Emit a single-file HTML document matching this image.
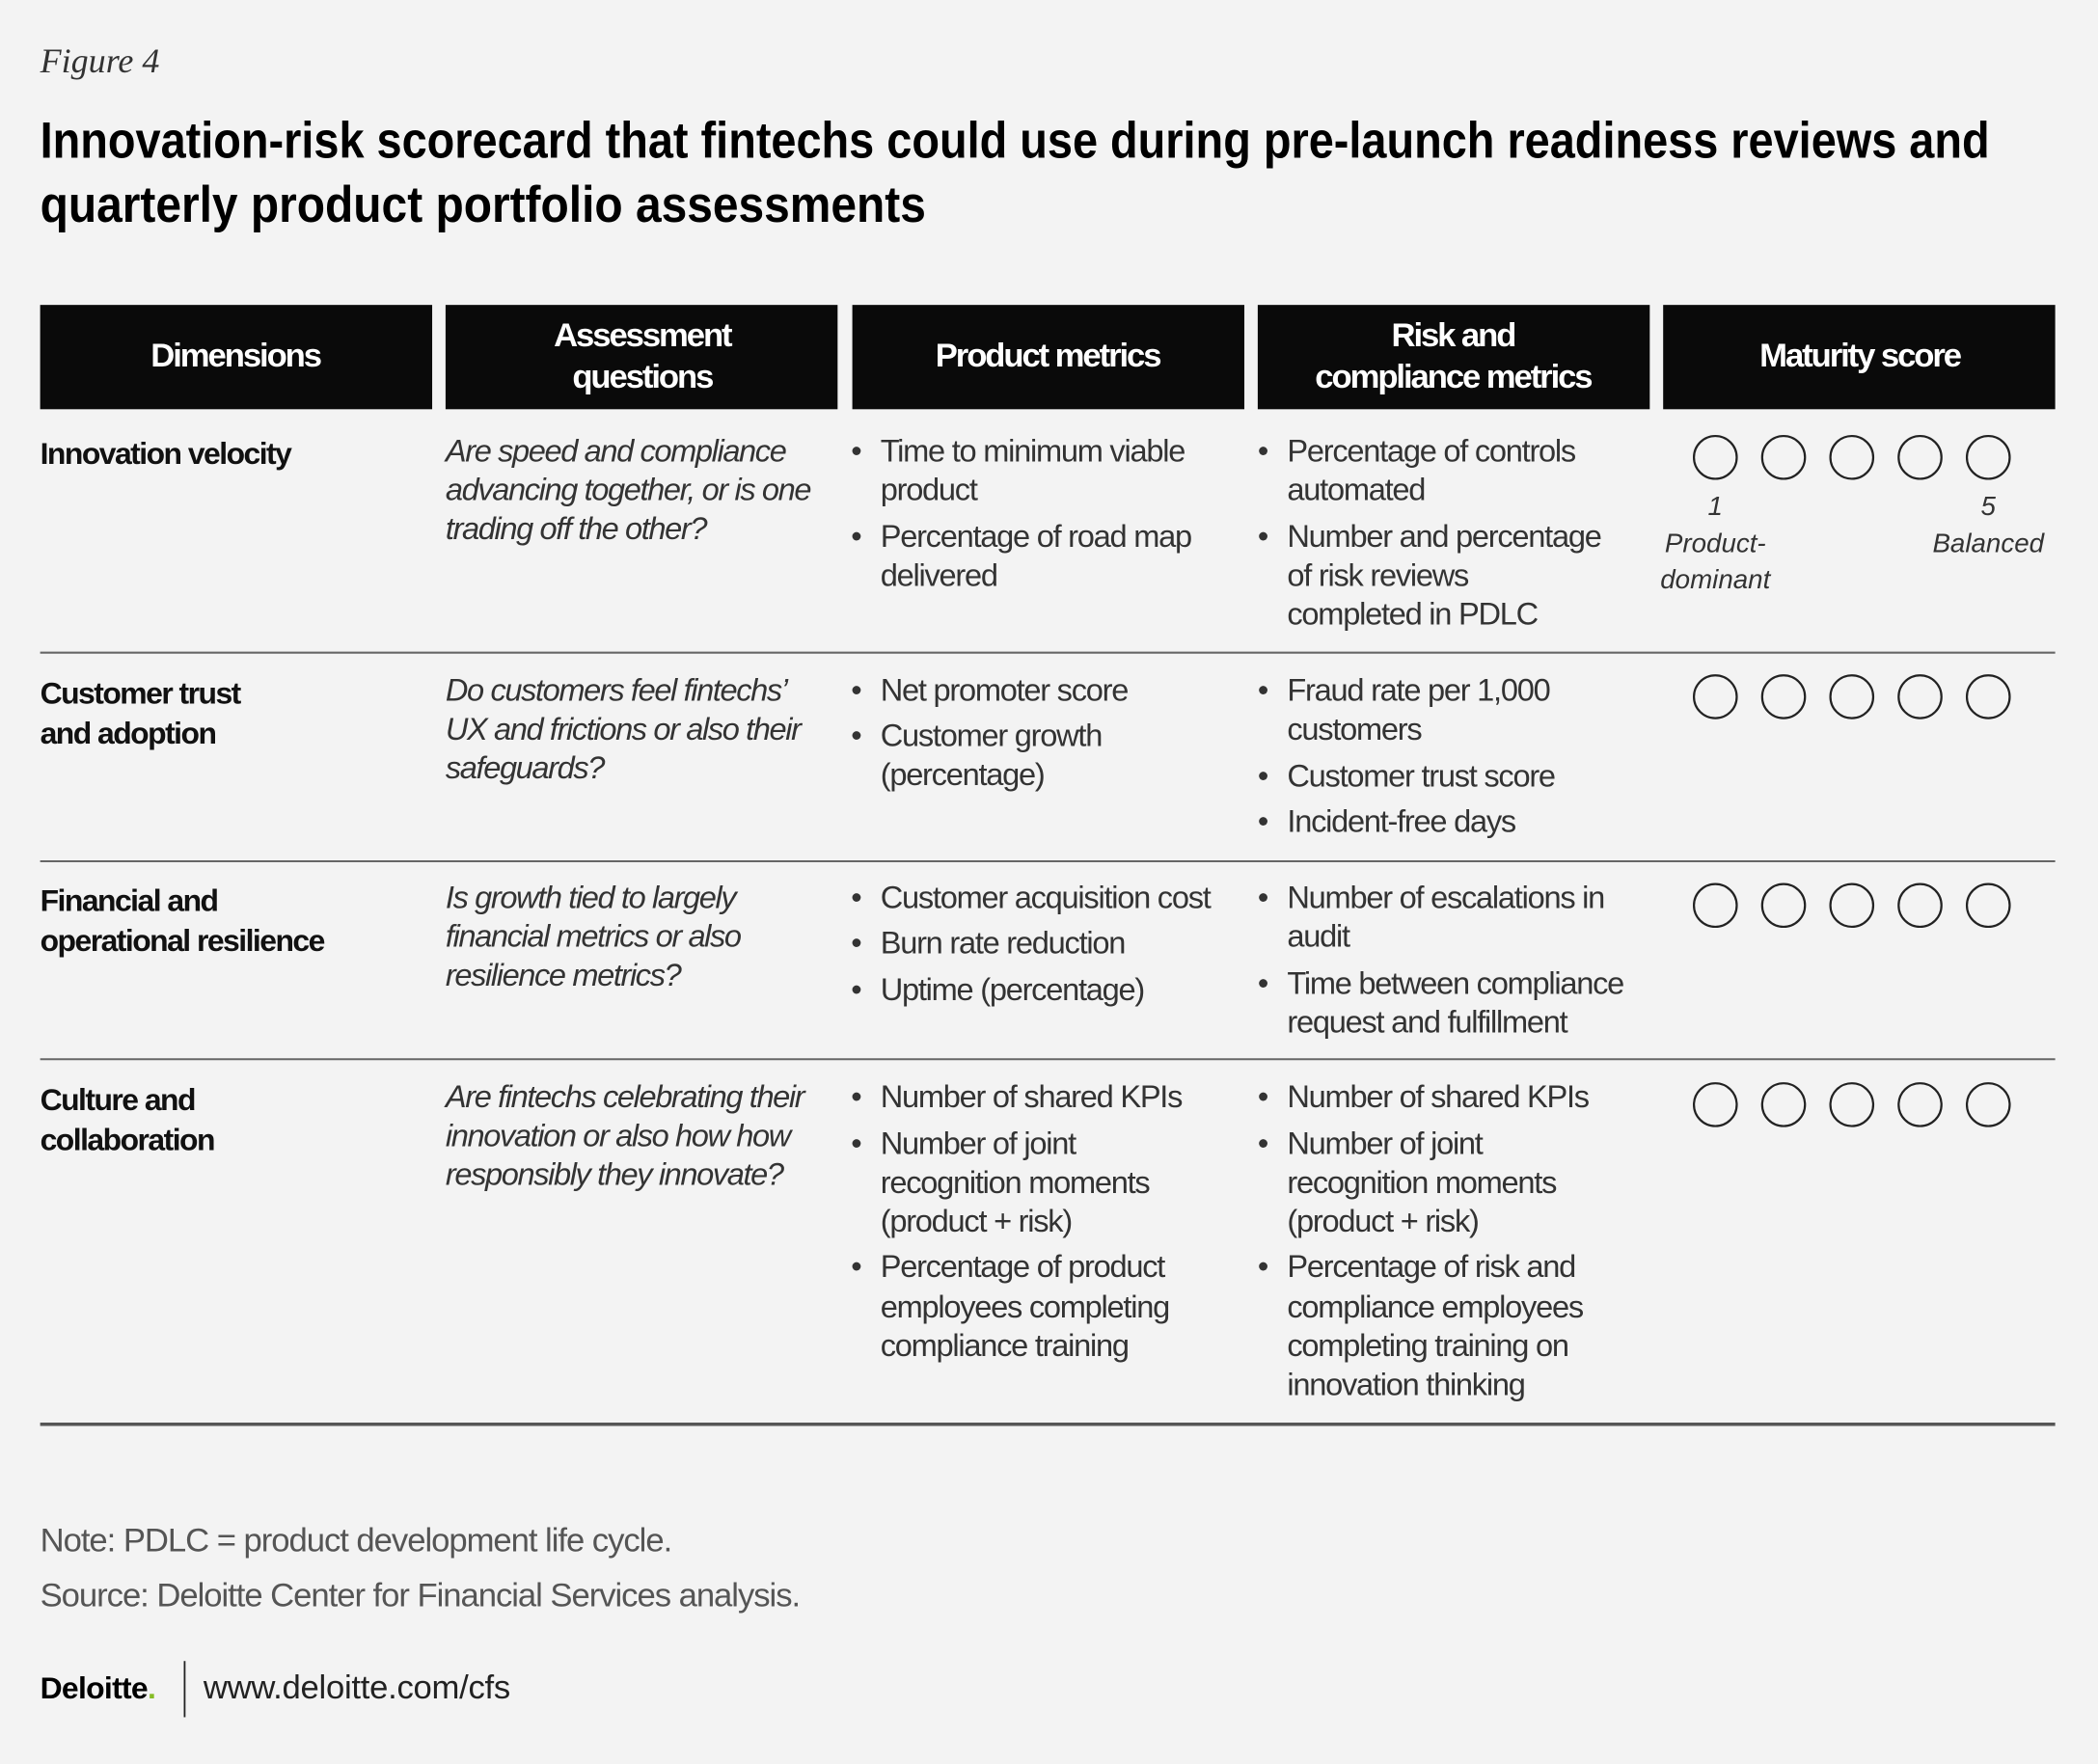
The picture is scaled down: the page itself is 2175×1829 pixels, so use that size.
<!DOCTYPE html>
<html><head><meta charset="utf-8"><style>
html,body{margin:0;padding:0;background:#f3f3f3;}
svg{display:block;}
.b{font-family:"Liberation Sans Narrow","Liberation Sans",sans-serif;font-size:23.5px;fill:#333;letter-spacing:-0.9px;}
.q{font-family:"Liberation Sans Narrow","Liberation Sans",sans-serif;font-size:23.5px;font-style:italic;fill:#333;letter-spacing:-1px;}
.d{font-family:"Liberation Sans Narrow","Liberation Sans",sans-serif;font-size:23px;font-weight:bold;fill:#111;letter-spacing:-1.1px;}
.h{font-family:"Liberation Sans Narrow","Liberation Sans",sans-serif;font-size:25px;font-weight:bold;fill:#fff;text-anchor:middle;letter-spacing:-1.5px;}
.s{font-family:"Liberation Sans Narrow","Liberation Sans",sans-serif;font-size:20px;font-style:italic;fill:#333;text-anchor:middle;}
.n{font-family:"Liberation Sans Narrow","Liberation Sans",sans-serif;font-size:25px;fill:#555;letter-spacing:-0.75px;}
.c{fill:none;stroke:#222;stroke-width:1.6;}
</style></head><body>
<svg width="2175" height="1829" viewBox="0 0 1568 1319" preserveAspectRatio="none">
<rect width="1568" height="1319" fill="#f3f3f3"/>
<text x="30" y="54" style="font-family:'Liberation Serif',serif;font-style:italic;font-size:26px;fill:#333">Figure 4</text>
<g style="font-family:'Liberation Sans Narrow','Liberation Sans',sans-serif;font-weight:bold;font-size:38px;fill:#000">
<text x="30" y="118" textLength="1457" lengthAdjust="spacingAndGlyphs">Innovation-risk scorecard that fintechs could use during pre-launch readiness reviews and</text>
<text x="30" y="166" textLength="662" lengthAdjust="spacingAndGlyphs">quarterly product portfolio assessments</text>
</g>
<g>
<rect x="30" y="228" width="293" height="78" fill="#0a0a0a"/>
<rect x="333" y="228" width="293" height="78" fill="#0a0a0a"/>
<rect x="637" y="228" width="293" height="78" fill="#0a0a0a"/>
<rect x="940" y="228" width="293" height="78" fill="#0a0a0a"/>
<rect x="1243" y="228" width="293" height="78" fill="#0a0a0a"/>
<text class="h" x="176" y="274">Dimensions</text>
<text class="h" x="480" y="259">Assessment</text><text class="h" x="480" y="290">questions</text>
<text class="h" x="783" y="274">Product metrics</text>
<text class="h" x="1086" y="259">Risk and</text><text class="h" x="1086" y="290">compliance metrics</text>
<text class="h" x="1390" y="274">Maturity score</text>
</g>
<g>
<text class="d" x="30" y="347">Innovation velocity</text>
<text class="q" x="333" y="345">Are speed and compliance</text><text class="q" x="333" y="374">advancing together, or is one</text><text class="q" x="333" y="403">trading off the other?</text>
<text class="b" x="636" y="345">•</text><text class="b" x="658" y="345">Time to minimum viable</text><text class="b" x="658" y="374">product</text>
<text class="b" x="636" y="409">•</text><text class="b" x="658" y="409">Percentage of road map</text><text class="b" x="658" y="438">delivered</text>
<text class="b" x="940" y="345">•</text><text class="b" x="962" y="345">Percentage of controls</text><text class="b" x="962" y="374">automated</text>
<text class="b" x="940" y="409">•</text><text class="b" x="962" y="409">Number and percentage</text><text class="b" x="962" y="438">of risk reviews</text><text class="b" x="962" y="467">completed in PDLC</text>
<circle class="c" cx="1282" cy="342" r="16"/><circle class="c" cx="1333" cy="342" r="16"/><circle class="c" cx="1384" cy="342" r="16"/><circle class="c" cx="1435" cy="342" r="16"/><circle class="c" cx="1486" cy="342" r="16"/>
<text class="s" x="1282" y="385">1</text><text class="s" x="1282" y="413">Product-</text><text class="s" x="1282" y="440">dominant</text>
<text class="s" x="1486" y="385">5</text><text class="s" x="1486" y="413">Balanced</text>
</g>
<line x1="30" y1="488" x2="1536" y2="488" stroke="#666" stroke-width="1.5"/>
<g>
<text class="d" x="30" y="526">Customer trust</text><text class="d" x="30" y="556">and adoption</text>
<text class="q" x="333" y="524">Do customers feel fintechs’</text><text class="q" x="333" y="553">UX and frictions or also their</text><text class="q" x="333" y="582">safeguards?</text>
<text class="b" x="636" y="524">•</text><text class="b" x="658" y="524">Net promoter score</text>
<text class="b" x="636" y="558">•</text><text class="b" x="658" y="558">Customer growth</text><text class="b" x="658" y="587">(percentage)</text>
<text class="b" x="940" y="524">•</text><text class="b" x="962" y="524">Fraud rate per 1,000</text><text class="b" x="962" y="553">customers</text>
<text class="b" x="940" y="588">•</text><text class="b" x="962" y="588">Customer trust score</text>
<text class="b" x="940" y="622">•</text><text class="b" x="962" y="622">Incident-free days</text>
<circle class="c" cx="1282" cy="521" r="16"/><circle class="c" cx="1333" cy="521" r="16"/><circle class="c" cx="1384" cy="521" r="16"/><circle class="c" cx="1435" cy="521" r="16"/><circle class="c" cx="1486" cy="521" r="16"/>
</g>
<line x1="30" y1="644" x2="1536" y2="644" stroke="#666" stroke-width="1.5"/>
<g>
<text class="d" x="30" y="681">Financial and</text><text class="d" x="30" y="711">operational resilience</text>
<text class="q" x="333" y="679">Is growth tied to largely</text><text class="q" x="333" y="708">financial metrics or also</text><text class="q" x="333" y="737">resilience metrics?</text>
<text class="b" x="636" y="679">•</text><text class="b" x="658" y="679">Customer acquisition cost</text>
<text class="b" x="636" y="713">•</text><text class="b" x="658" y="713">Burn rate reduction</text>
<text class="b" x="636" y="748">•</text><text class="b" x="658" y="748">Uptime (percentage)</text>
<text class="b" x="940" y="679">•</text><text class="b" x="962" y="679">Number of escalations in</text><text class="b" x="962" y="708">audit</text>
<text class="b" x="940" y="743">•</text><text class="b" x="962" y="743">Time between compliance</text><text class="b" x="962" y="772">request and fulfillment</text>
<circle class="c" cx="1282" cy="677" r="16"/><circle class="c" cx="1333" cy="677" r="16"/><circle class="c" cx="1384" cy="677" r="16"/><circle class="c" cx="1435" cy="677" r="16"/><circle class="c" cx="1486" cy="677" r="16"/>
</g>
<line x1="30" y1="792" x2="1536" y2="792" stroke="#666" stroke-width="1.5"/>
<g>
<text class="d" x="30" y="830">Culture and</text><text class="d" x="30" y="860">collaboration</text>
<text class="q" x="333" y="828">Are fintechs celebrating their</text><text class="q" x="333" y="857">innovation or also how how</text><text class="q" x="333" y="886">responsibly they innovate?</text>
<text class="b" x="636" y="828">•</text><text class="b" x="658" y="828">Number of shared KPIs</text>
<text class="b" x="636" y="863">•</text><text class="b" x="658" y="863">Number of joint</text><text class="b" x="658" y="892">recognition moments</text><text class="b" x="658" y="921">(product + risk)</text>
<text class="b" x="636" y="955">•</text><text class="b" x="658" y="955">Percentage of product</text><text class="b" x="658" y="985">employees completing</text><text class="b" x="658" y="1014">compliance training</text>
<text class="b" x="940" y="828">•</text><text class="b" x="962" y="828">Number of shared KPIs</text>
<text class="b" x="940" y="863">•</text><text class="b" x="962" y="863">Number of joint</text><text class="b" x="962" y="892">recognition moments</text><text class="b" x="962" y="921">(product + risk)</text>
<text class="b" x="940" y="955">•</text><text class="b" x="962" y="955">Percentage of risk and</text><text class="b" x="962" y="985">compliance employees</text><text class="b" x="962" y="1014">completing training on</text><text class="b" x="962" y="1043">innovation thinking</text>
<circle class="c" cx="1282" cy="826" r="16"/><circle class="c" cx="1333" cy="826" r="16"/><circle class="c" cx="1384" cy="826" r="16"/><circle class="c" cx="1435" cy="826" r="16"/><circle class="c" cx="1486" cy="826" r="16"/>
</g>
<line x1="30" y1="1065" x2="1536" y2="1065" stroke="#555" stroke-width="2.5"/>
<text class="n" x="30" y="1160">Note: PDLC = product development life cycle.</text>
<text class="n" x="30" y="1201">Source: Deloitte Center for Financial Services analysis.</text>
<text x="30" y="1270" style="font-family:'Liberation Sans',sans-serif;font-weight:bold;font-size:23px;fill:#000;letter-spacing:-0.5px">Deloitte<tspan fill="#86bc25">.</tspan></text>
<line x1="138" y1="1242" x2="138" y2="1284" stroke="#222" stroke-width="1.3"/>
<text class="n" x="152" y="1270" style="fill:#222;letter-spacing:-0.2px">www.deloitte.com/cfs</text>
</svg>
</body></html>
